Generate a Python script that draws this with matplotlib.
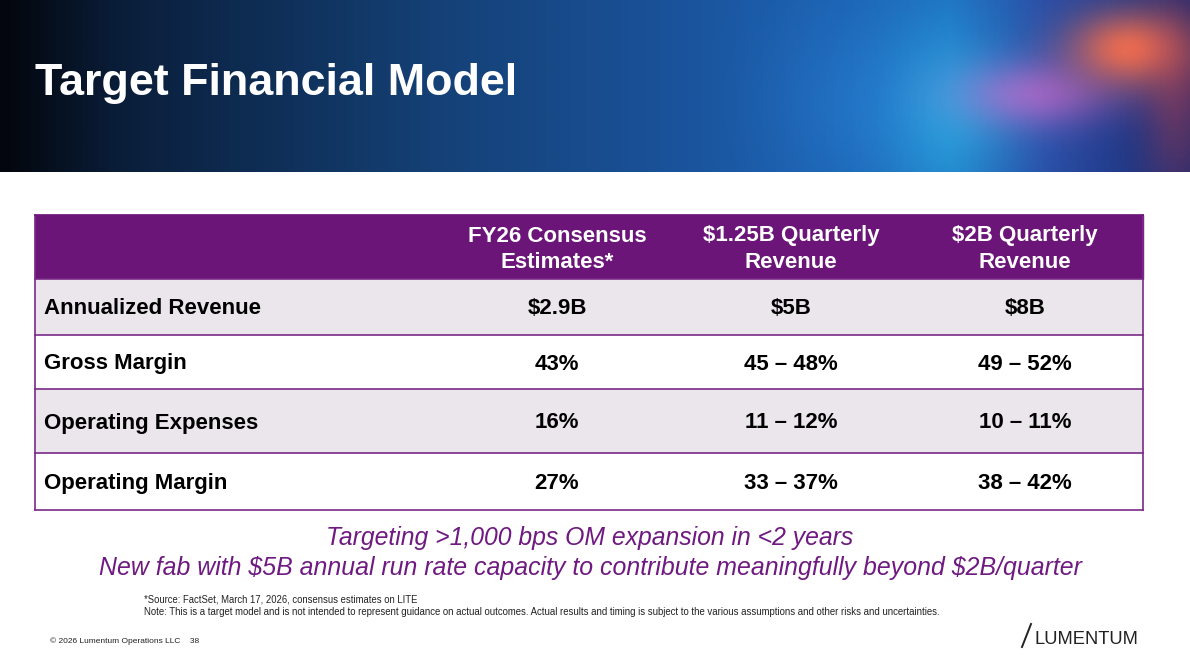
import matplotlib
matplotlib.use("Agg")
import matplotlib.pyplot as plt
import numpy as np
from matplotlib.patches import Rectangle
from matplotlib.colors import LinearSegmentedColormap
from matplotlib import font_manager

# ---- data ----
title = "Target Financial Model"
col_headers = ["FY26 Consensus\nEstimates*", "$1.25B Quarterly\nRevenue", "$2B Quarterly\nRevenue"]
row_labels = ["Annualized Revenue", "Gross Margin", "Operating Expenses", "Operating Margin"]
fy26_values = ["$2.9B", "43%", "16%", "27%"]
q125_values = ["$5B", "45 \u2013 48%", "11 \u2013 12%", "33 \u2013 37%"]
q2_values = ["$8B", "49 \u2013 52%", "10 \u2013 11%", "38 \u2013 42%"]
callouts = ["Targeting >1,000 bps OM expansion in <2 years",
            "New fab with $5B annual run rate capacity to contribute meaningfully beyond $2B/quarter"]
footnotes = ["*Source: FactSet, March 17, 2026, consensus estimates on LITE",
             "Note: This is a target model and is not intended to represent guidance on actual outcomes. Actual results and timing is subject to the various assumptions and other risks and uncertainties."]
copyright_text = "\u00a9 2026 Lumentum Operations LLC    38"
logo_text = "LUMENTUM"

W, H = 1190, 660
PURPLE = "#6b1578"
ROWGRAY = "#ebe6ec"
FONT = ["Liberation Sans", "DejaVu Sans"]
installed = {f.name for f in font_manager.fontManager.ttflist}
NARROW = (["Liberation Sans Narrow"] if "Liberation Sans Narrow" in installed else []) + FONT

fig = plt.figure(figsize=(W / 100, H / 100), dpi=100)
ax = fig.add_axes([0, 0, 1, 1])
ax.set_xlim(0, W)
ax.set_ylim(H, 0)
ax.axis("off")
renderer = fig.canvas.get_renderer()


def fit_text(x, y, s, target_w, **kw):
    t = ax.text(x, y, s, fontsize=10, parse_math=False, **kw)
    bb = t.get_window_extent(renderer)
    t.set_fontsize(10 * target_w / bb.width)
    return t


# ---- banner ----
bh = 172
nx = 400
xs = np.linspace(0, 1, nx)
cmap = LinearSegmentedColormap.from_list(
    "ban", [(0.0, "#03060c"), (0.1, "#0a1e3a"), (0.35, "#143f73"),
            (0.6, "#1b56a0"), (0.72, "#1d64b5"), (0.8, "#1f70c0"),
            (0.88, "#2a4fa8"), (1.0, "#1c2a70")])
grad = np.tile(xs, (60, 1))
ax.imshow(grad, cmap=cmap, extent=(0, W, bh, 0), aspect="auto", zorder=0)
ys = np.linspace(0, 1, 60)[:, None]
xx = xs[None, :]


def glow(cx, cy, sx, sy, rgb, a):
    g = np.exp(-((xx - cx) ** 2) / sx - ((ys - cy) ** 2) / sy)
    img = np.zeros((60, nx, 4))
    img[..., 0], img[..., 1], img[..., 2] = rgb
    img[..., 3] = a * g
    ax.imshow(img, extent=(0, W, bh, 0), aspect="auto", zorder=1)


glow(0.8, 0.65, 0.003, 0.25, (0.2, 0.8, 0.95), 0.5)
glow(0.72, 0.6, 0.006, 0.3, (0.2, 0.6, 0.95), 0.25)
glow(0.87, 0.55, 0.004, 0.04, (0.95, 0.45, 0.85), 0.55)
glow(0.95, 0.28, 0.0025, 0.05, (1.0, 0.45, 0.3), 0.9)
glow(0.99, 0.55, 0.0008, 0.3, (0.9, 0.3, 0.3), 0.35)

fit_text(35, 83, title, 482, color="white", fontweight="bold",
         family=NARROW, va="center", ha="left", zorder=3)

# ---- table ----
x0, x1 = 35, 1143
col_x = [557, 791, 1025]
row_edges = [215, 279, 335, 389, 453, 510]
header_line_y = [236, 263]
FS = 16
ax.add_patch(Rectangle((x0, row_edges[0]), x1 - x0, row_edges[1] - row_edges[0],
                       facecolor=PURPLE, edgecolor=PURPLE, lw=1, zorder=2))
for cx, hdr in zip(col_x, col_headers):
    for ly, line in zip(header_line_y, hdr.split("\n")):
        ax.text(cx, ly, line, color="white",
                fontsize=FS, fontweight="bold", family=FONT, ha="center", va="center",
                zorder=3, parse_math=False)

columns = [fy26_values, q125_values, q2_values]
for i, lab in enumerate(row_labels):
    top, bot = row_edges[i + 1], row_edges[i + 2]
    fc = ROWGRAY if i % 2 == 0 else "white"
    ax.add_patch(Rectangle((x0, top), x1 - x0, bot - top, facecolor=fc,
                           edgecolor="none", zorder=2))
    cy = (top + bot) / 2 + 2
    ax.text(44, cy, lab, color="black", fontsize=FS, fontweight="bold",
            family=FONT, ha="left", va="center", zorder=3, parse_math=False)
    for cx, vals in zip(col_x, columns):
        ax.text(cx, cy, vals[i], color="black", fontsize=FS, fontweight="bold",
                family=FONT, ha="center", va="center", zorder=3, parse_math=False)
for y in row_edges[1:]:
    ax.plot([x0, x1], [y, y], color="#7a2a88", lw=1.2, zorder=4)
ax.plot([x0, x0], [row_edges[0], row_edges[-1]], color="#7a2a88", lw=1.2, zorder=4)
ax.plot([x1, x1], [row_edges[0], row_edges[-1]], color="#7a2a88", lw=1.2, zorder=4)
ax.plot([x0, x1], [row_edges[0], row_edges[0]], color=PURPLE, lw=1.2, zorder=4)

# ---- callouts ----
fit_text(590, 538, callouts[0], 529, color="#6f1a80", style="italic",
         family=FONT, ha="center", va="center", zorder=3)
fit_text(590, 568, callouts[1], 987, color="#6f1a80", style="italic",
         family=FONT, ha="center", va="center", zorder=3)

# ---- footnotes ----
fit_text(144, 600, footnotes[0], 274, family=NARROW, color="#222222",
         ha="left", va="center")
fit_text(144, 612, footnotes[1], 806, family=NARROW, color="#222222",
         ha="left", va="center")
fit_text(50, 641, copyright_text, 150, family=NARROW, color="#222222",
         ha="left", va="center")

# ---- logo ----
ax.plot([1022, 1031], [647, 624], color="#222222", lw=1.4)
fit_text(1034, 639, logo_text, 104, family=NARROW, color="#222222",
         ha="left", va="center", fontweight="light")

fig.savefig("out.png", dpi=100)
